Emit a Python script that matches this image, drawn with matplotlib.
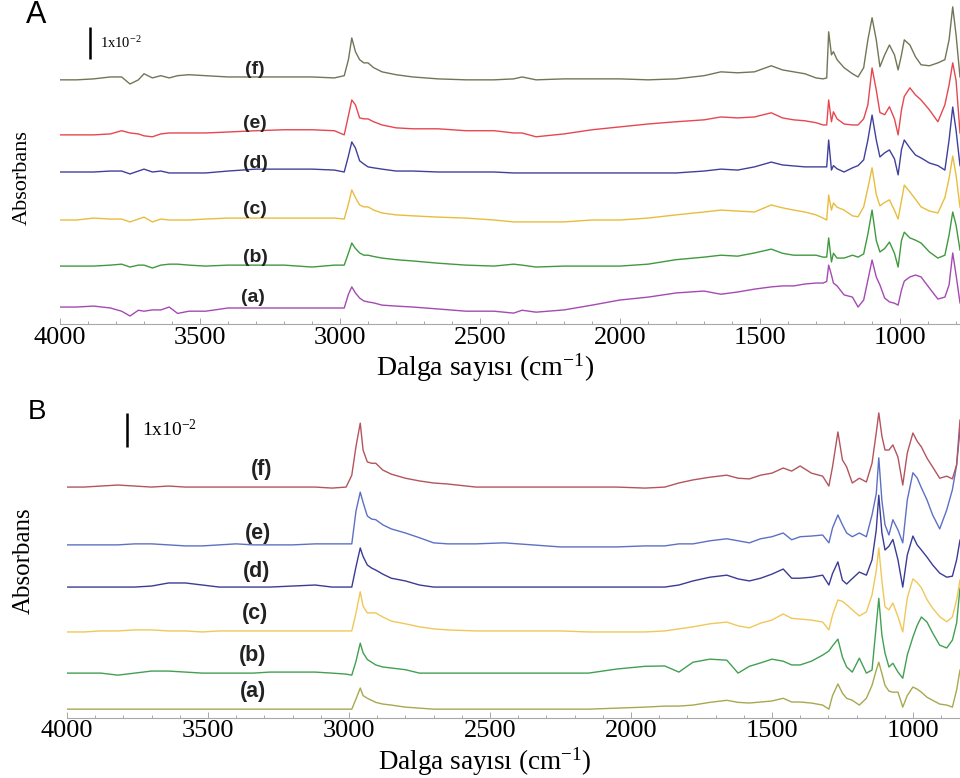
import numpy as np
import matplotlib
matplotlib.use("Agg")
import matplotlib.pyplot as plt
from matplotlib.ticker import MultipleLocator

plt.rcParams["mathtext.fontset"] = "custom"
plt.rcParams["mathtext.rm"] = "Liberation Serif"
plt.rcParams["mathtext.it"] = "Liberation Serif:italic"
plt.rcParams["mathtext.bf"] = "Liberation Serif:bold"

# ---------------------------------------------------------------- data
# Absorbance in units of 1e-3, relative to each spectrum's value at 4000 cm-1
SERIES = ["(a)", "(b)", "(c)", "(d)", "(e)", "(f)"]

WN_A = [4000, 3940, 3880, 3820, 3780, 3750, 3720, 3700, 3670, 3640,
        3610, 3580, 3540, 3480, 3400, 3300, 3200, 3100, 3020, 2985,
        2970, 2958, 2945, 2930, 2915, 2900, 2880, 2850, 2800, 2740,
        2650, 2550, 2450, 2380, 2350, 2300, 2200, 2100, 2000, 1900,
        1800, 1700, 1640, 1580, 1520, 1460, 1420, 1380, 1340, 1300,
        1275, 1262, 1255, 1245, 1238, 1225, 1200, 1170, 1150, 1130,
        1115, 1100, 1085, 1072, 1055, 1038, 1020, 1007, 995, 985,
        965, 945, 925, 895, 865, 840, 825, 812, 800, 786]

A_a = [0, 0, 0.3, -0.3, -1.3, -2.8, -1.0, -1.3, -0.9, -0.9,
       0, -2.0, -1.3, -1.3, -0.3, -0.3, -0.3, -0.3, -0.3, -0.3,
       4.0, 6.3, 4.4, 2.8, 1.9, 1.6, 1.3, 0.6, 0.3, 0,
       -0.6, -1.3, -1.3, -1.9, -1.0, -1.6, -0.9, 0.6, 2.2, 3.1,
       4.4, 5.0, 4.0, 4.7, 5.6, 6.3, 6.6, 6.6, 7.2, 7.5,
       7.5, 8.0, 13.1, 10.0, 7.5, 6.6, 3.8, 3.1, 0, 2.2,
       8.4, 14.7, 9.4, 6.9, 2.8, 1.6, 1.2, 0.6, 5.3, 8.1,
       9.4, 10.0, 9.4, 5.9, 2.5, 3.1, 6.9, 16.9, 10.0, 1.3]
A_b = [0, 0, 0, 0.3, 0.6, -0.3, 0.3, 0.3, -0.6, 0.3,
       0.6, 0.6, 0.3, 0, 0.3, 0.3, 0.3, -0.3, 0.3, 0.3,
       4.0, 7.2, 5.5, 4.1, 3.4, 3.4, 3.0, 2.5, 2.0, 1.6,
       0.9, 0.3, 0, 0.6, 0.3, -0.3, 0, 0, 0, 0.6,
       2.0, 2.8, 3.4, 3.1, 4.1, 5.3, 4.0, 3.4, 3.4, 3.4,
       2.8, 2.8, 8.8, 1.3, 4.0, 2.5, 2.5, 3.4, 2.8, 3.8,
       10.0, 17.5, 8.0, 4.4, 5.5, 7.5, 4.0, -0.3, 8.0, 10.6,
       8.8, 8.1, 7.2, 4.4, 2.5, 3.4, 9.7, 16.9, 12.8, 5.0]
A_c = [0, 0, 0.6, 0.3, 0.3, -0.6, 0.3, 0.9, -0.6, 0.3,
       0, 0, 0, 0.3, 0.6, 0.6, 0.6, 0.6, 0.6, 0.3,
       5.0, 9.4, 7.0, 4.7, 4.1, 4.1, 3.1, 2.2, 1.6, 1.3,
       0.9, 0.6, 0, -0.6, -0.6, -0.6, -0.6, 0, 0, 0.6,
       1.6, 2.5, 3.1, 2.8, 2.5, 4.7, 3.8, 3.1, 2.5, 1.6,
       0.6, 0, 7.8, 3.1, 5.3, 4.0, 3.1, 1.3, 1.0, 4.1,
       10.0, 16.3, 8.0, 4.4, 5.5, 6.3, 3.0, 0.3, 6.0, 10.9,
       8.8, 6.5, 4.1, 2.8, 2.2, 7.0, 13.0, 20.0, 14.0, 4.0]
A_d = [0, 0, 0, 0.3, 0.3, -0.6, 0.3, 0.9, 0, 0.3,
       -0.3, -0.3, -0.3, -0.3, 0.3, 0.9, 0.9, 0.9, 0.6, 0,
       5.0, 9.4, 7.5, 3.5, 2.5, 1.6, 1.3, 0.9, 0.3, 0.3,
       0, 0, 0, -0.3, -0.3, -0.3, -0.3, -0.3, -0.3, -0.3,
       -0.3, 0.3, 0.9, 0.6, 1.6, 3.1, 2.2, 1.9, 1.6, 1.6,
       1.6, 1.6, 10.0, 0.6, 2.0, 1.0, 0, 1.3, 2.0, 3.8,
       10.0, 17.8, 10.0, 4.7, 6.0, 6.9, 4.1, -0.9, 7.0, 10.0,
       7.5, 5.3, 4.4, 2.8, 2.0, 0.6, 10.0, 20.3, 13.0, 2.0]
A_e = [0, 0, 0, 0.3, 1.3, 0.6, 0.3, -0.3, -0.6, 0.3,
       0.6, 0.6, 0.6, 0.6, 0.9, 1.3, 1.6, 1.6, 1.3, 0,
       6.0, 10.9, 9.4, 5.3, 5.0, 5.0, 4.1, 3.1, 2.2, 1.9,
       1.9, 1.3, 1.3, 0.6, 0.6, -0.6, 0.3, 1.6, 2.5, 3.4,
       4.1, 4.7, 5.6, 5.3, 5.6, 6.9, 5.3, 4.7, 4.4, 3.8,
       3.1, 3.1, 10.9, 4.1, 7.2, 5.0, 3.4, 3.1, 3.1, 5.0,
       9.4, 20.9, 14.0, 7.0, 6.3, 8.8, 5.0, 0, 7.8, 12.0,
       14.7, 12.5, 10.9, 7.8, 4.1, 9.4, 15.6, 22.5, 17.0, 0.6]
A_f = [0, 0, 0.3, 0.9, 0.9, -1.3, 0, 1.9, 0.6, 1.3,
       0.6, 1.3, 1.6, 1.3, 0.9, 0.9, 0.9, 0.9, 0.6, 1.3,
       6.3, 13.1, 8.8, 6.3, 5.3, 5.3, 3.8, 2.5, 1.6, 0.9,
       0.3, 0, 0, 0.3, 0.9, 0, 0.3, 0.3, 0.3, 0,
       0.3, 1.3, 2.5, 2.2, 2.5, 4.4, 3.1, 2.5, 1.9, 0.6,
       0.3, 0.6, 15.0, 7.8, 8.8, 6.3, 3.8, 1.9, 0.9, 3.8,
       12.5, 19.4, 12.5, 4.1, 7.8, 10.9, 7.8, 3.1, 7.8, 12.5,
       10.9, 7.2, 4.7, 4.4, 5.3, 6.3, 12.5, 22.8, 14.0, 0.9]

WN_B = [4000, 3940, 3880, 3820, 3760, 3700, 3640, 3580, 3520, 3460,
        3400, 3340, 3280, 3200, 3120, 3060, 3010, 2990, 2975, 2960,
        2950, 2935, 2920, 2905, 2880, 2850, 2800, 2750, 2700, 2650,
        2550, 2450, 2350, 2250, 2150, 2050, 1950, 1880, 1830, 1780,
        1720, 1660, 1620, 1580, 1540, 1500, 1460, 1430, 1400, 1360,
        1320, 1298, 1285, 1266, 1250, 1235, 1215, 1190, 1165, 1145,
        1130, 1121, 1110, 1099, 1085, 1071, 1053, 1036, 1020, 1000,
        985, 970, 950, 930, 905, 880, 860, 845, 833]

B_a = [0, 0, 0, 0, 0, 0, 0, 0, 0, 0,
       0, 0, 0, 0, 0, 0, 0, 0, 3.0, 6.2,
       4.0, 3.2, 2.6, 2.0, 1.5, 1.2, 0.6, 0.3, 0, 0,
       0, 0, 0, 0, 0, 0.3, 0.6, 0.9, 0.9, 1.2,
       2.0, 2.6, 2.0, 1.8, 2.1, 2.4, 3.2, 2.1, 2.1, 1.8,
       1.2, 0, 4.0, 7.4, 4.7, 3.2, 2.6, 1.2, 3.2, 7.0,
       11.5, 13.8, 10.5, 7.0, 5.3, 5.0, 5.0, 0.6, 4.0, 6.5,
       5.9, 5.0, 3.5, 2.6, 1.5, 1.2, 0.6, 5.6, 11.5]
B_b = [0, 0, 0, -0.6, 0, 0.6, 0.6, 0.3, 0, 0,
       0, 0, 0.3, 0.3, 0.3, 0, -0.3, -0.6, 3.5, 8.8,
       6.0, 4.0, 3.2, 2.4, 1.8, 1.5, 1.0, 0, 0, 0,
       0, 0, 0, 0, 0, 1.2, 2.0, 2.1, 0.3, 3.2,
       4.1, 3.8, 0, 2.0, 3.0, 4.1, 3.5, 2.4, 2.4, 3.5,
       5.3, 6.5, 8.0, 10.0, 4.7, 1.8, 0.3, 4.4, 0, 0.9,
       14.0, 22.0, 11.2, 5.9, 1.8, 2.9, 0.3, -1.5, 5.3, 10.6,
       14.0, 16.5, 15.0, 11.8, 8.2, 7.4, 9.7, 14.7, 25.0]
B_c = [0, 0, 0.3, 0.3, 0.6, 0.6, 0.3, 0.3, 0, 0.3,
       0.3, 0.3, 0.3, 0.3, 0.3, 0.3, 0.3, 0.3, 5.6, 11.8,
       7.6, 5.6, 5.6, 5.6, 4.4, 3.2, 2.4, 1.5, 0.9, 0.6,
       0.3, 0.3, 0.3, 0.3, 0, 0, 0, 0.3, 0.9, 1.5,
       2.4, 2.9, 1.8, 1.2, 2.6, 3.5, 5.3, 4.0, 3.8, 3.5,
       2.9, 0.6, 5.0, 9.4, 9.0, 8.0, 6.5, 4.7, 5.9, 10.9,
       18.0, 24.7, 15.0, 7.4, 6.5, 8.5, 4.5, 0, 10.0, 15.6,
       14.5, 13.0, 9.5, 7.0, 4.5, 3.0, 4.4, 9.4, 15.3]
B_d = [0, 0, 0, 0, 0, 0.3, 1.2, 1.2, 0.6, 0,
       0, 0, 0, 0.3, 0.6, 0, 0, 0, 6.0, 11.5,
       9.0, 6.5, 5.6, 5.0, 3.8, 2.6, 1.8, 0.6, 0, 0,
       0, 0, 0, 0, 0, 0, 0, 0, 0.6, 1.8,
       2.9, 3.5, 2.4, 1.8, 2.6, 3.8, 5.3, 2.6, 2.6, 2.9,
       3.5, 0.6, 4.0, 7.4, 2.0, 0.9, 2.5, 4.4, 3.5, 8.0,
       16.8, 27.0, 16.0, 10.9, 12.0, 14.0, 8.0, 0, 9.4, 15.0,
       12.4, 10.9, 8.8, 6.5, 4.1, 2.9, 3.2, 8.0, 13.8]
B_e = [0, 0, 0, 0, 0.3, 0.3, 0, -0.3, -0.3, 0,
       0.3, 0, 0, 0, 0.3, 0.3, 0.3, 0.3, 10.0, 15.5,
       12.5, 8.5, 7.6, 7.4, 5.9, 4.7, 3.5, 2.1, 0.6, 0.3,
       0.3, 0.6, 0, -0.6, -0.6, -0.6, -0.3, -0.3, 0.3, 0.3,
       1.2, 1.8, 1.2, 0.6, 1.8, 2.4, 3.5, 1.5, 2.4, 2.6,
       2.9, 0.6, 5.0, 8.8, 5.9, 3.5, 2.4, 3.5, 2.4, 8.8,
       15.0, 25.6, 13.0, 5.9, 2.9, 7.4, 4.4, 0.6, 13.2, 21.2,
       19.7, 16.8, 13.2, 8.8, 4.7, 10.3, 16.2, 23.5, 33.8]
B_f = [0, 0, 0.3, 0.6, 0.3, 0, 0.3, 0, 0, 0,
       0, 0, 0, 0, 0, -0.3, 0, 3.5, 12.0, 18.8,
       10.9, 7.4, 7.0, 7.0, 5.0, 3.8, 2.6, 1.8, 1.2, 0.9,
       0, 0, 0, 0, 0, 0, -0.3, 0, 1.2, 2.1,
       2.9, 3.5, 2.6, 2.4, 3.5, 4.1, 5.6, 4.7, 6.2, 4.1,
       3.2, 0.3, 6.0, 16.2, 8.0, 5.9, 1.2, 2.6, 1.5, 7.0,
       16.0, 21.8, 15.0, 10.9, 10.9, 12.4, 8.8, 0.6, 10.0, 15.9,
       13.5, 11.8, 8.5, 5.9, 2.6, 3.2, 2.4, 6.5, 19.7]

SCALE = 10  # 1x10^-2 absorbance in the 1e-3 units used above

# ---------------------------------------------------------------- layout
COLORS_A = ["#a54ab3", "#3f9a3f", "#e8bd3e", "#40409c", "#e6474f", "#6f7756"]
COLORS_B = ["#a8a850", "#42a052", "#f0c75a", "#3b3b96", "#5d70c4", "#b3545e"]
STACK_A = [5.3, 18.1, 32.5, 47.5, 59.1, 76.3]
STACK_B = [2.6, 13.2, 25.3, 38.5, 50.9, 67.9]

W, H = 960, 778
fig = plt.figure(figsize=(W / 100, H / 100), dpi=100)


def fx(px):
    return px / W


def fy(py):
    return 1 - py / H


axA = fig.add_axes([fx(60), fy(324), fx(900), 324 / H])
axB = fig.add_axes([fx(67), fy(718), fx(893), (718 - 400) / H])

SERIF = "Liberation Serif"
SANS = "Liberation Sans"


def style(ax, xmin, ymax, pad):
    ax.set_xlim(4000, xmin)
    ax.set_ylim(0, ymax)
    for side in ("left", "right", "top"):
        ax.spines[side].set_visible(False)
    ax.spines["bottom"].set_color("#a8a8a8")
    ax.spines["bottom"].set_linewidth(0.8)
    ax.set_yticks([])
    ax.xaxis.set_major_locator(MultipleLocator(500))
    ax.xaxis.set_minor_locator(MultipleLocator(100))
    ax.tick_params(axis="x", which="both", direction="in", color="#999999",
                   width=0.6, pad=pad, labelsize=19, labelfontfamily=SERIF)
    ax.tick_params(axis="x", which="major", length=4)
    ax.tick_params(axis="x", which="minor", length=2.5)
    ax.patch.set_alpha(0)


style(axA, 786, 101.25, 2)
style(axB, 833, 93.5, 1.5)

for vals, off, col in zip([A_a, A_b, A_c, A_d, A_e, A_f], STACK_A, COLORS_A):
    axA.plot(WN_A, np.array(vals) + off, color=col, lw=1.0)
for vals, off, col in zip([B_a, B_b, B_c, B_d, B_e, B_f], STACK_B, COLORS_B):
    axB.plot(WN_B, np.array(vals) + off, color=col, lw=1.0)

# axis titles
xlab = "Dalga sayısı (cm$^{-1}$)"
axA.set_xlabel(xlab, fontsize=20, family=SERIF, va="top")
axA.xaxis.set_label_coords((485 - 60) / 900, (324 - 352) / 324)
axB.set_xlabel(xlab, fontsize=19.5, family=SERIF, va="top")
axB.xaxis.set_label_coords((485 - 67) / 893, (718 - 745) / 318)

fig.text(fx(22), fy(178), "Absorbans", rotation=90, ha="center", va="center",
         fontsize=16, family=SERIF)
fig.text(fx(24), fy(561), "Absorbans", rotation=90, ha="center", va="center",
         fontsize=18, family=SERIF)

# panel letters
fig.text(fx(36), fy(15), "A", ha="center", va="center", fontsize=22, family=SANS)
fig.text(fx(37), fy(412), "B", ha="center", va="center", fontsize=20, family=SANS)

# scale bars (length = 1x10^-2 absorbance)
axA.plot([3893, 3893], [82.8, 82.8 + SCALE], color="black", lw=1.8, solid_capstyle="butt")
axA.text(3857, 87.8, "1x10$^{-2}$", ha="left", va="center", fontsize=10.5, family=SERIF)
axB.plot([3787, 3787], [79.7, 79.7 + SCALE], color="black", lw=1.8, solid_capstyle="butt")
axB.text(3734, 84.7, "1x10$^{-2}$", ha="left", va="center", fontsize=14, family=SERIF)

# curve labels
lab_A = [(253, 298), (255, 258), (255, 210), (255, 163), (255, 123), (255, 70)]
lab_B = [(253, 692), (253, 656), (255, 613), (257, 572), (258, 533), (262, 469)]
for name, (px, py) in zip(SERIES, lab_A):
    fig.text(fx(px), fy(py), name, ha="center", va="center", fontsize=14,
             fontweight="bold", family=SANS, color="#222222")
for name, (px, py) in zip(SERIES, lab_B):
    fig.text(fx(px), fy(py), name, ha="center", va="center", fontsize=15.5,
             fontweight="bold", family=SANS, color="#222222")

fig.savefig("out.png", dpi=100)
